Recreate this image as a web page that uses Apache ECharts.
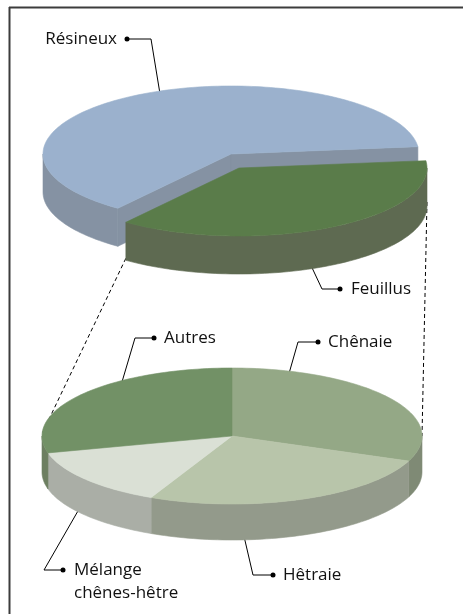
<!DOCTYPE html>
<html>
<head>
<meta charset="utf-8">
<script src="https://cdn.jsdelivr.net/npm/echarts@6/dist/echarts.min.js"></script>
<style>
  html, body { margin: 0; padding: 0; background: #fff; }
  #chart { width: 463px; height: 614px; }
</style>
</head>
<body>
<div id="chart"></div>
<script>
// data
const upperNames = ['Résineux', 'Feuillus']
const upperValues = [63, 37]
const lowerNames = ['Chênaie', 'Hêtraie', 'Mélange\nchênes-hêtre', 'Autres']
const lowerValues = [31, 26, 14, 29]

// styles
const upperTop = ['#9bb1cd', '#5a7c4a']
const upperSide = ['#8592a3', '#5e6a51']
const lowerTop = ['#94a886', '#b8c5aa', '#dae0d5', '#729166']
const lowerSide = ['#7f8a75', '#939a8b', '#aaaea6', '#6d7f61']

// pie geometry (flattened ellipses)
const upperPie = { cx: 231, cy: 154, rx: 188, ry: 68, depth: 38, start: 127, offsets: [null, [8, 14]], cutFaces: true }
const lowerPie = { cx: 232, cy: 436, rx: 190, ry: 68, depth: 36, start: 270, offsets: [], cutFaces: false }

const RAD = Math.PI / 180

function sliceAngles (values, start) {
  const total = values.reduce((s, v) => s + v, 0)
  let a = start
  return values.map(v => {
    const a1 = a
    a += v / total * 360
    return [a1, a]
  })
}

function geom (pie, i) {
  const off = pie.offsets[i] || [0, 0]
  const cx = pie.cx + off[0]
  const cy = pie.cy + off[1]
  const pt = (deg, dy) => [cx + pie.rx * Math.cos(deg * RAD), cy + pie.ry * Math.sin(deg * RAD) + dy]
  const arc = (b1, b2, dy) => {
    const n = Math.max(2, Math.ceil(Math.abs(b2 - b1) / 1.5))
    const pts = []
    for (let k = 0; k <= n; k++) pts.push(pt(b1 + (b2 - b1) * k / n, dy))
    return pts
  }
  return { cx, cy, pt, arc }
}

function makeRender (pie, values, topColors, sideColors) {
  const angles = sliceAngles(values, pie.start)
  return function (params, api) {
    const i = params.dataIndex
    const a1 = angles[i][0]
    const a2 = angles[i][1]
    const g = geom(pie, i)
    const d = pie.depth
    const side = sideColors[i]
    const children = []
    const poly = (points, color) => ({
      type: 'polygon',
      shape: { points },
      style: { fill: color, stroke: color, lineWidth: 0.6 }
    })
    // cut faces, only visible when a slice is pulled out
    if (pie.cutFaces) {
      [[a1, Math.cos(a1 * RAD) < 0], [a2, Math.cos(a2 * RAD) > 0]].forEach(([a, vis]) => {
        if (!vis) return
        children.push(poly([[g.cx, g.cy], g.pt(a, 0), g.pt(a, d), [g.cx, g.cy + d]], side))
      })
    }
    // outer wall, front half only
    for (let k = -1; k <= 2; k++) {
      const lo = Math.max(a1, k * 360)
      const hi = Math.min(a2, k * 360 + 180)
      if (hi > lo) {
        const pts = g.arc(lo, hi, 0).concat(g.arc(hi, lo, d))
        children.push(poly(pts, side))
      }
    }
    // top face
    children.push(poly([[g.cx, g.cy]].concat(g.arc(a1, a2, 0)), topColors[i]))
    return { type: 'group', children }
  }
}

// connector lines between the pulled-out slice and the second pie
const upAngles = sliceAngles(upperValues, upperPie.start)
const fg = geom(upperPie, 1)
const lg = geom(lowerPie, 0)
const connLeft = [fg.pt(upAngles[1][1], upperPie.depth - 2), lg.pt(182, 0)]
const connRight = [fg.pt(360, upperPie.depth - 4), lg.pt(360, 0)]

// label layout: text position, dot, elbow, anchor on slice
const labelLayout = {
  'Résineux': { text: [117, 39], align: 'right', line: [[127, 39], [151, 39], [161, 100]] },
  'Feuillus': { text: [351, 289], align: 'left', line: [[340, 289], [322, 289], [307, 257]] },
  'Autres': { text: [164, 338], align: 'left', line: [[154, 338], [135, 338], [119, 392]] },
  'Chênaie': { text: [328, 342], align: 'left', line: [[318, 342], [298, 342], [286, 384]] },
  'Hêtraie': { text: [283, 575], align: 'left', line: [[273, 575], [253, 575], [243, 532]] },
  'Mélange\nchênes-hêtre': { text: [74, 570], align: 'left', line: [[63, 570], [44, 570], [86, 497]] }
}

const graphics = [
  { type: 'line', shape: { x1: 9, y1: 7.5, x2: 463, y2: 7.5 }, style: { stroke: '#3c3c3c', lineWidth: 2 } },
  { type: 'line', shape: { x1: 9.5, y1: 7, x2: 9.5, y2: 614 }, style: { stroke: '#3c3c3c', lineWidth: 2 } },
  { type: 'polyline', shape: { points: connLeft }, style: { stroke: '#000', lineWidth: 1, lineDash: [4, 3], fill: null } },
  { type: 'polyline', shape: { points: connRight }, style: { stroke: '#000', lineWidth: 1, lineDash: [4, 3], fill: null } }
]

upperNames.concat(lowerNames).forEach(name => {
  const L = labelLayout[name]
  graphics.push({
    type: 'polyline',
    shape: { points: L.line },
    style: { stroke: '#000', lineWidth: 1, fill: null }
  })
  graphics.push({
    type: 'circle',
    shape: { cx: L.line[0][0], cy: L.line[0][1], r: 2.5 },
    style: { fill: '#000' }
  })
  const lines = name.split('\n')
  lines.forEach((t, j) => {
    graphics.push({
      type: 'text',
      x: L.text[0],
      y: L.text[1] + j * 23,
      style: {
        text: t,
        fill: '#111',
        font: '17px "Open Sans", sans-serif',
        align: L.align,
        verticalAlign: 'middle'
      }
    })
  })
})

const chart = echarts.init(document.getElementById('chart'))
chart.setOption({
  backgroundColor: '#fff',
  animation: false,
  graphic: graphics,
  series: [
    {
      type: 'custom',
      coordinateSystem: 'none',
      silent: true,
      renderItem: makeRender(upperPie, upperValues, upperTop, upperSide),
      data: upperValues.map((v, i) => ({ name: upperNames[i], value: [v] }))
    },
    {
      type: 'custom',
      coordinateSystem: 'none',
      silent: true,
      renderItem: makeRender(lowerPie, lowerValues, lowerTop, lowerSide),
      data: lowerValues.map((v, i) => ({ name: lowerNames[i], value: [v] }))
    }
  ]
})
</script>
</body>
</html>
